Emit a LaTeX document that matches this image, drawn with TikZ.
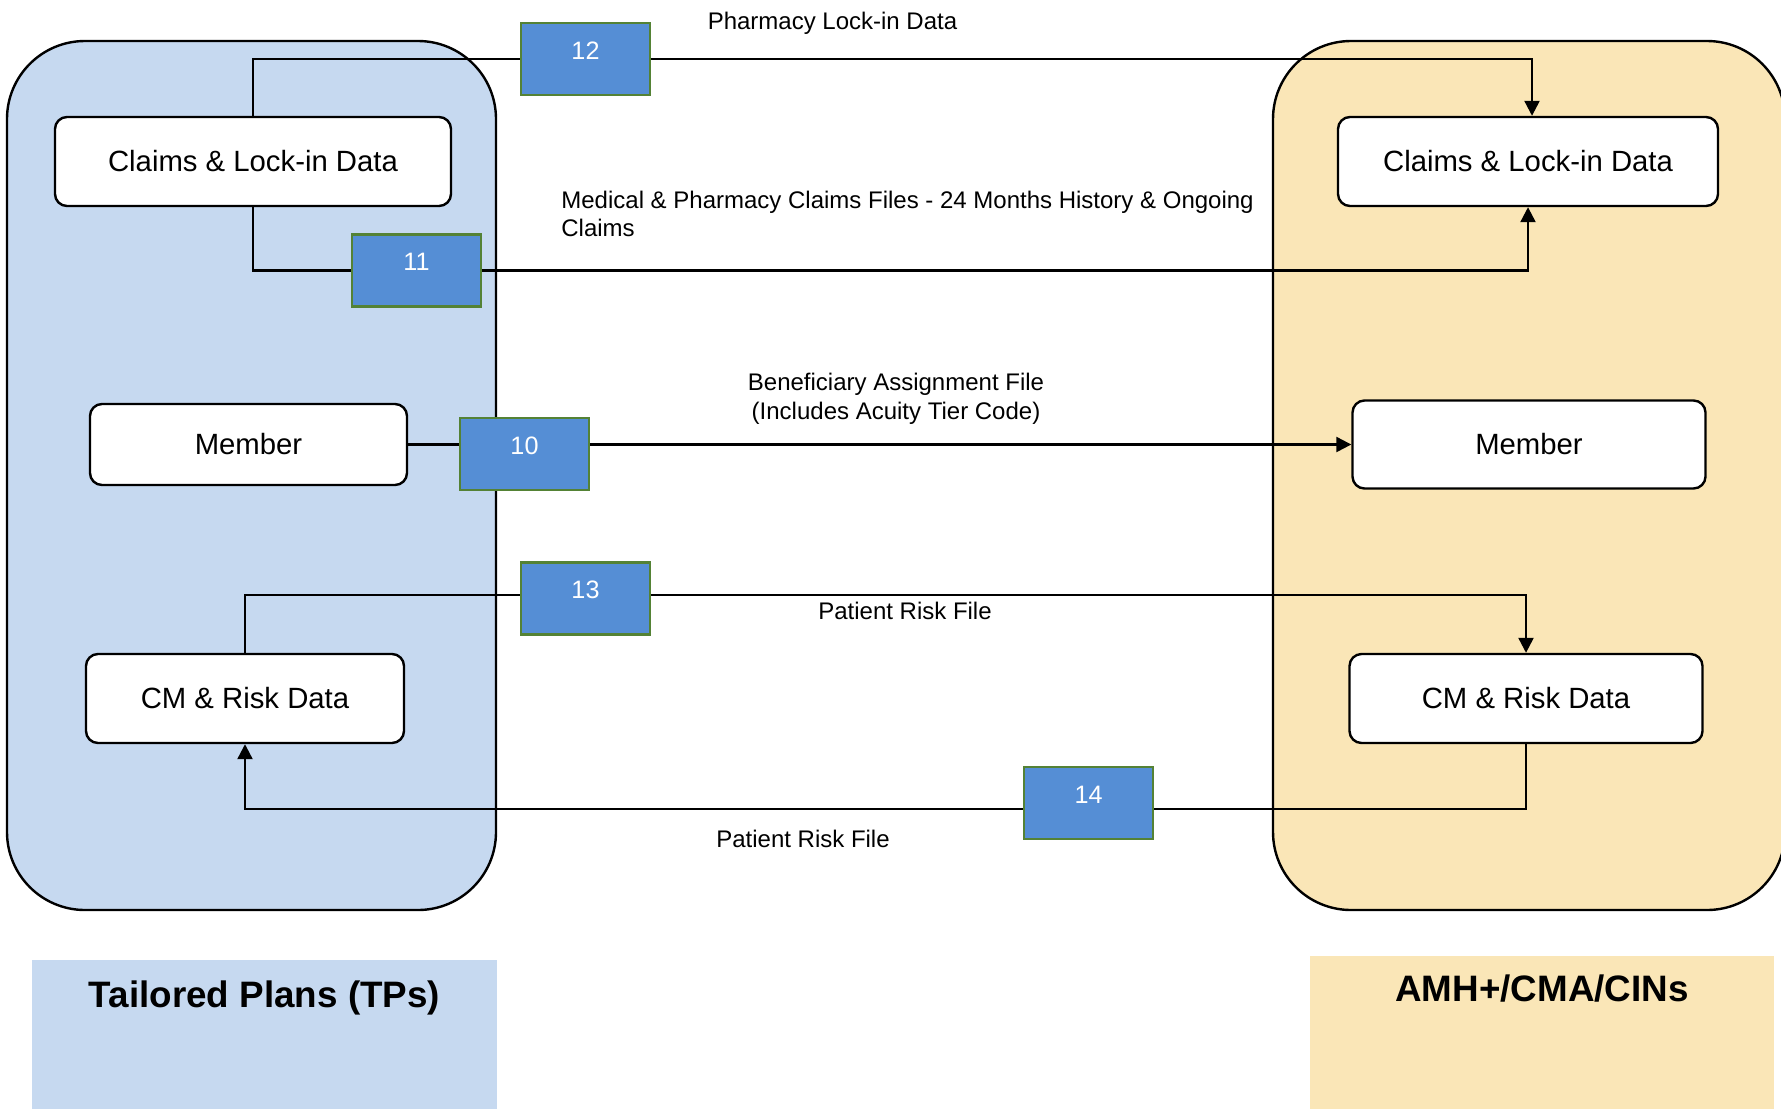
\documentclass[tikz,border=0pt]{standalone}
\usepackage{fontspec}
\setmainfont{Liberation Sans}
\usetikzlibrary{arrows.meta,positioning,calc}
\definecolor{tpblue}{HTML}{C6D9F0}
\definecolor{cinyellow}{HTML}{FAE6B7}
\definecolor{filefill}{HTML}{558ED5}
\definecolor{fileedge}{HTML}{548235}
\pgfdeclarelayer{back}
\pgfdeclarelayer{wires}
\pgfsetlayers{back,wires,main}
\tikzset{
  panel/.style={draw, line width=1.2pt, rounded corners=39pt, inner sep=0pt},
  datablock/.style={draw, fill=white, rounded corners=6pt, line width=1.2pt,
    align=center, font=\fontsize{14.65}{17}\selectfont, inner sep=0pt},
  numbox/.style={draw=fileedge, fill=filefill, line width=1.3pt, text=white,
    font=\fontsize{12.6}{14}\selectfont, minimum width=64.5pt, inner sep=0pt,
    text height=18pt, text depth=18pt},
  flowlabel/.style={font=\fontsize{12}{14.3}\selectfont, inner sep=0pt},
  titlebox/.style={anchor=north, inner sep=0pt, minimum width=232.5pt,
    font=\fontsize{18.4}{22}\selectfont\bfseries},
  wire/.style={line width=1.15pt},
  arrow/.style={wire, -{Triangle[length=7.5pt, width=7.5pt]}}
}

\begin{document}
\begin{tikzpicture}[x=0.5pt, y=-0.5pt]
  \useasboundingbox (0,0) rectangle (1781,1109);

  % the two parties
  \begin{pgfonlayer}{back}
    \node[panel, fill=tpblue, minimum width=244.5pt, minimum height=434.5pt] (tpPanel) at (251.5,475.5) {};
    \node[panel, fill=cinyellow, minimum width=256pt, minimum height=434.5pt] (cinPanel) at (1529,475.5) {};
  \end{pgfonlayer}

  \node[datablock, minimum width=198pt, minimum height=44.5pt] (tpClaims) at (253,161.5) {Claims \& Lock-in Data};
  \node[datablock, minimum width=158.5pt, minimum height=40.5pt] (tpMember) at (248.5,444.5) {Member};
  \node[datablock, minimum width=159pt, minimum height=44.5pt] (tpRisk) at (245,698.5) {CM \& Risk Data};

  \node[datablock, minimum width=190pt, minimum height=44.5pt] (cinClaims) at (1528,161.5) {Claims \& Lock-in Data};
  \node[datablock, minimum width=176.5pt, minimum height=44pt] (cinMember) at (1529,444.5) {Member};
  \node[datablock, minimum width=176.5pt, minimum height=44.5pt] (cinRisk) at (1526,698.5) {CM \& Risk Data};

  % file numbers
  \node[numbox] (n12) at (585.5,59) {12};
  \node[numbox] (n11) at (416.5,270.5) {11};
  \node[numbox] (n10) at (524.5,454) {10};
  \node[numbox] (n13) at (585.5,598.5) {13};
  \node[numbox] (n14) at (1088.5,803) {14};

  \node[flowlabel] (lbl12) at (832.5,23) {Pharmacy Lock-in Data};
  \node[flowlabel, align=left, anchor=west] (lbl11) at (561,214)
    {Medical \& Pharmacy Claims Files - 24 Months History \& Ongoing\\Claims};
  \node[flowlabel, align=center] (lbl10) at (896,399)
    {Beneficiary Assignment File\\(Includes Acuity Tier Code)};
  \node[flowlabel] (lbl13) at (905,611) {Patient Risk File};
  \node[flowlabel] (lbl14) at (803,839) {Patient Risk File};

  \node[titlebox, fill=tpblue, text height=23.5pt, text depth=51pt] (tpTitle) at (264.5,960) {Tailored Plans (TPs)};
  \node[titlebox, fill=cinyellow, minimum width=232pt, text height=22.5pt, text depth=54pt] (cinTitle) at (1542,956) {AMH+/CMA/CINs};

  \begin{pgfonlayer}{wires}
    \draw[wire] (tpClaims.north) |- (n12.west);
    \draw[arrow] (n12.east) -| ([xshift=2pt]cinClaims.north);
    \draw[wire] (tpClaims.south) |- (n11.west);
    \draw[arrow] (n11.east) -| (cinClaims.south);
    \draw[arrow] (tpMember.east) -- (cinMember.west);
    \draw[wire] (tpRisk.north) |- ([yshift=1.75pt]n13.west);
    \draw[arrow] ([yshift=1.75pt]n13.east) -| (cinRisk.north);
    \draw[wire] (cinRisk.south) |- ([yshift=-3pt]n14.east);
    \draw[arrow] ([yshift=-3pt]n14.west) -| (tpRisk.south);
  \end{pgfonlayer}
\end{tikzpicture}
\end{document}
